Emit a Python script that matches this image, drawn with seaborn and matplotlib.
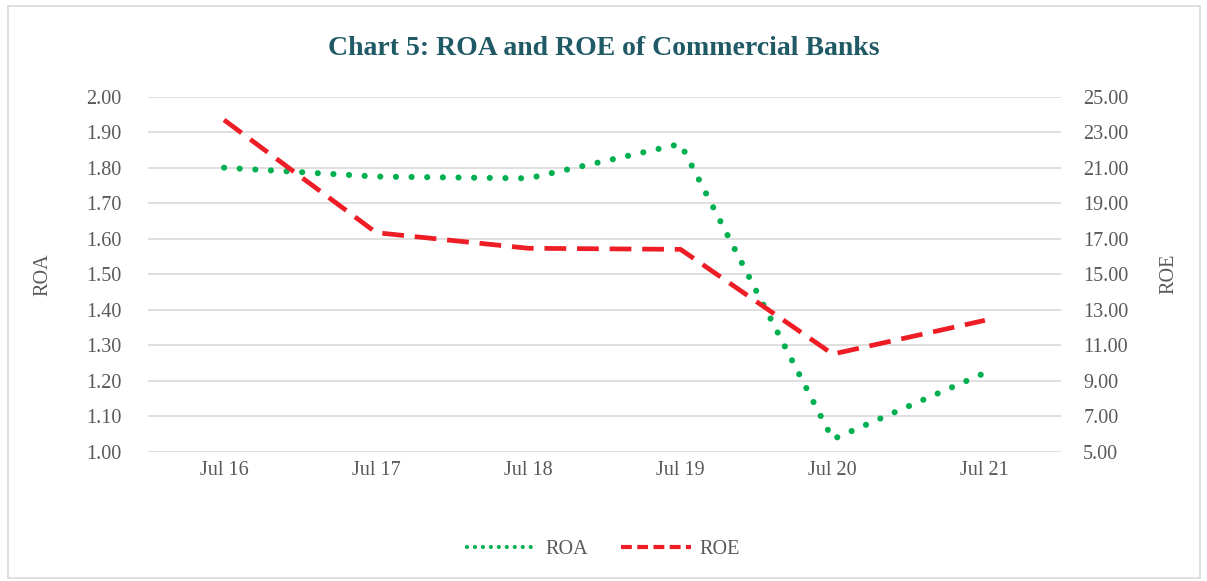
import pandas as pd
import seaborn as sns
import matplotlib.pyplot as plt
from matplotlib.lines import Line2D
from matplotlib.patches import Rectangle

periods = ['Jul 16', 'Jul 17', 'Jul 18', 'Jul 19', 'Jul 20', 'Jul 21']
roa = [1.80, 1.775, 1.77, 1.867, 1.035, 1.222]
roe = [23.69, 17.34, 16.46, 16.40, 10.50, 12.40]

roa_ticks = [1.0 + 0.1 * i for i in range(11)]
roe_ticks = [5 + 2 * i for i in range(11)]

df = pd.DataFrame({'Period': periods, 'ROA': roa, 'ROE': roe})
df['pos'] = range(len(df))

sns.set_style('white')
plt.rcParams['font.family'] = ['Liberation Serif', 'DejaVu Serif']

green = '#00B050'
red = '#EE1C25'
grey = '#595959'
fs = 14.5

fig = plt.figure(figsize=(12.07, 5.81), dpi=100)
ax = fig.add_axes([0.1226, 0.2225, 0.7564, 0.6111])
ax2 = ax.twinx()

sns.lineplot(data=df, x='pos', y='ROA', ax=ax, color=green, lw=4.4,
             linestyle=(0, (0.01, 2.55)), dash_capstyle='round')
sns.lineplot(data=df, x='pos', y='ROE', ax=ax2, color=red, lw=3.4,
             linestyle=(0, (4.6, 2.3)), dash_capstyle='butt')

ax.set_xlim(-0.5, len(periods) - 0.5)
ax.set_ylim(1.0, 2.0)
ax2.set_ylim(5, 25)
ax.set_yticks(roa_ticks)
ax.set_yticklabels([f'{v:.2f}' for v in roa_ticks])
ax2.set_yticks(roe_ticks)
ax2.set_yticklabels([f'{v:.2f}' for v in roe_ticks])
ax.set_xticks(df['pos'])
ax.set_xticklabels(periods)

ax.grid(axis='y', color='#D9D9D9', lw=1.2)
ax.set_axisbelow(True)
for a in (ax, ax2):
    for s in a.spines.values():
        s.set_visible(False)
ax.tick_params(axis='y', length=0, pad=19, labelsize=fs, labelcolor=grey)
ax2.tick_params(axis='y', length=0, pad=16, labelsize=fs, labelcolor=grey)
ax.tick_params(axis='x', length=0, pad=7, labelsize=fs, labelcolor=grey)

ax.set_xlabel('')
ax.set_ylabel('ROA', fontsize=fs, color=grey, labelpad=24)
ax2.set_ylabel('ROE', fontsize=fs, color=grey, labelpad=22)

fig.text(0.5, 0.916, 'Chart 5: ROA and ROE of Commercial Banks', ha='center', va='center',
         fontsize=20, fontweight='bold', color='#1F5A66')

handles = [Line2D([], [], color=green, lw=3.0, linestyle=(0, (0.01, 1.9)), dash_capstyle='round'),
           Line2D([], [], color=red, lw=3.0, linestyle=(0, (2.6, 1.3)))]
fig.legend(handles, ['ROA', 'ROE'], loc='center', bbox_to_anchor=(0.5, 0.055), ncol=2,
           frameon=False, fontsize=fs, handlelength=3.5, handletextpad=0.4,
           columnspacing=1.6, labelcolor=grey)

fig.patches.append(Rectangle((0.007, 0.005), 0.987, 0.985, transform=fig.transFigure,
                             fill=False, edgecolor='#D9D9D9', lw=1.2))

fig.savefig('out.png', dpi=100)
